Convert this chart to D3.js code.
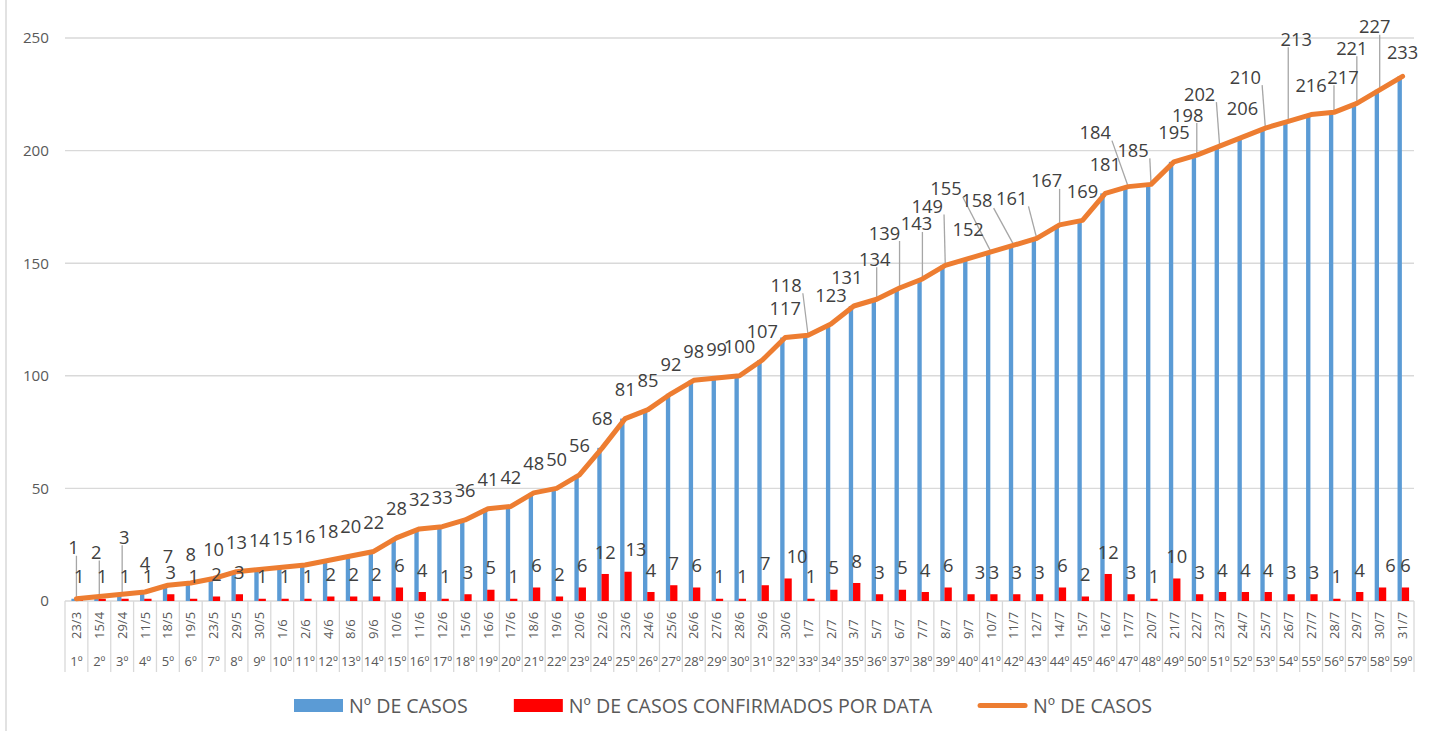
<!DOCTYPE html>
<html>
<head>
<meta charset="utf-8">
<script src="https://cdn.jsdelivr.net/npm/d3@7"></script>
<style>
  html, body { margin: 0; padding: 0; background: #fff; }
  svg { display: block; }
  text { font-family: "Open Sans", "Noto Sans", sans-serif; }
</style>
</head>
<body>
<svg id="chart" width="1431" height="731"></svg>
<script>
// ---------------- DATA ----------------
const categories = ["23/3","15/4","29/4","11/5","18/5","19/5","23/5","29/5","30/5","1/6","2/6","4/6","8/6","9/6","10/6","11/6","12/6","15/6","16/6","17/6","18/6","19/6","20/6","22/6","23/6","24/6","25/6","26/6","27/6","28/6","29/6","30/6","1/7","2/7","3/7","5/7","6/7","7/7","8/7","9/7","10/7","11/7","12/7","14/7","15/7","16/7","17/7","20/7","21/7","22/7","23/7","24/7","25/7","26/7","27/7","28/7","29/7","30/7","31/7"];
const ordinals = ["1º","2º","3º","4º","5º","6º","7º","8º","9º","10º","11º","12º","13º","14º","15º","16º","17º","18º","19º","20º","21º","22º","23º","24º","25º","26º","27º","28º","29º","30º","31º","32º","33º","34º","35º","36º","37º","38º","39º","40º","41º","42º","43º","44º","45º","46º","47º","48º","49º","50º","51º","52º","53º","54º","55º","56º","57º","58º","59º"];
const cumulativeCases = [1,2,3,4,7,8,10,13,14,15,16,18,20,22,28,32,33,36,41,42,48,50,56,68,81,85,92,98,99,100,107,117,118,123,131,134,139,143,149,152,155,158,161,167,169,181,184,185,195,198,202,206,210,213,216,217,221,227,233];
const dailyCases = [1,1,1,1,3,1,2,3,1,1,1,2,2,2,6,4,1,3,5,1,6,2,6,12,13,4,7,6,1,1,7,10,1,5,8,3,5,4,6,3,3,3,3,6,2,12,3,1,10,3,4,4,4,3,3,1,4,6,6];
const yTicks = [0,50,100,150,200,250];
const seriesNames = ["Nº DE CASOS","Nº DE CASOS CONFIRMADOS POR DATA","Nº DE CASOS"];

// ---------------- LAYOUT (label placement tweaks, pixels) ----------------
const cumLabelOffsets = {0:[-3,-51],1:[-3,-44],2:[2,-57],32:[-22,-50],34:[-7,-29],35:[-2,-40],36:[-15,-55],37:[-6,-55],38:[-18,-59],40:[-45,-63],41:[-37,-45],42:[-25,-40],43:[-13,-44],46:[-33,-54],47:[-18,-34],49:[-9,-40],50:[-20,-52],52:[-20,-51],53:[8,-82],55:[9,-35],56:[-5,-55],57:[-5,-63],58:[0,-24]};
const cumLabelDefault = [0,-29];
const dailyLabelShift = {24:8,31:9,39:9,57:8};

const colors = { blue:"#5B9BD5", red:"#FF0000", orange:"#ED7D31", grid:"#D9D9D9", axisText:"#595959", label:"#404040", leader:"#A6A6A6" };

const svg = d3.select("#chart");
const plot = { left:65, right:1414, top:38, bottom:601 };

const x = d3.scaleBand().domain(d3.range(categories.length)).range([plot.left, plot.right]).padding(0);
const bw = x.bandwidth();
const sub = d3.scaleLinear().domain([0,1]).range([0,bw]);
const y = d3.scaleLinear().domain([0,250]).range([plot.bottom, plot.top]);
const cx = i => x(i) + bw/2;

// chart area left border
svg.append("line").attr("x1",6).attr("x2",6).attr("y1",0).attr("y2",731)
  .attr("stroke",colors.grid).attr("stroke-width",1.5);

// horizontal gridlines
svg.append("g").selectAll("line").data(yTicks).join("line")
  .attr("x1",plot.left).attr("x2",plot.right)
  .attr("y1",d=>y(d)).attr("y2",d=>y(d))
  .attr("stroke",colors.grid).attr("stroke-width",1.4);

// y axis labels
svg.append("g").selectAll("text").data(yTicks).join("text")
  .attr("x",49).attr("y",d=>y(d)+5.4)
  .attr("text-anchor","end").attr("font-size",15.2).attr("fill",colors.axisText)
  .text(d=>d);

// category separators
const bounds = d3.range(categories.length+1).map(i => i<categories.length ? x(i) : plot.right);
svg.append("g").selectAll("line").data(bounds).join("line")
  .attr("x1",d=>d).attr("x2",d=>d).attr("y1",plot.bottom).attr("y2",672)
  .attr("stroke",colors.grid).attr("stroke-width",1.3);

// date labels (rotated)
svg.append("g").selectAll("text").data(categories).join("text")
  .attr("transform",(d,i)=>`translate(${cx(i)+4.6},639) rotate(-90)`)
  .attr("text-anchor","start").attr("font-size",13).attr("fill",colors.axisText)
  .text(d=>d);

// ordinal labels
svg.append("g").selectAll("text").data(ordinals).join("text")
  .attr("x",(d,i)=>cx(i)).attr("y",666)
  .attr("text-anchor","middle").attr("font-size",13).attr("fill",colors.axisText)
  .text(d=>d);

// blue bars (cumulative)
svg.append("g").selectAll("rect").data(cumulativeCases).join("rect")
  .attr("x",(d,i)=>x(i)+sub(0.28)).attr("width",sub(0.19))
  .attr("y",d=>y(d)).attr("height",d=>y(0)-y(d))
  .attr("fill",colors.blue);

// red bars (daily)
svg.append("g").selectAll("rect").data(dailyCases).join("rect")
  .attr("x",(d,i)=>x(i)+sub(0.465)).attr("width",sub(0.32))
  .attr("y",d=>y(d)).attr("height",d=>y(0)-y(d))
  .attr("fill",colors.red);

// leader lines for moved cumulative labels
const cumLabelFont = 18.3;
const leaders = [];
cumulativeCases.forEach((v,i)=>{
  const off = cumLabelOffsets[i] || cumLabelDefault;
  const dist = Math.hypot(off[0]-cumLabelDefault[0], off[1]-cumLabelDefault[1]);
  if (dist > 9) {
    const px = cx(i), py = y(v);
    const lcx = px+off[0], lcy = py+off[1];
    const w = String(v).length*10.5 + 2, h = 8;
    const lx = Math.max(lcx-w/2, Math.min(px, lcx+w/2));
    const ly = Math.max(lcy-h, Math.min(py, lcy+h));
    const len = Math.hypot(px-lx, py-ly);
    const k = (len-2)/len;
    leaders.push([lx, ly, lx+(px-lx)*k, ly+(py-ly)*k]);
  }
});
svg.append("g").selectAll("line").data(leaders).join("line")
  .attr("x1",d=>d[0]).attr("y1",d=>d[1]).attr("x2",d=>d[2]).attr("y2",d=>d[3])
  .attr("stroke",colors.leader).attr("stroke-width",1.3);

// orange line
const line = d3.line().x((d,i)=>cx(i)).y(d=>y(d));
svg.append("path").datum(cumulativeCases)
  .attr("d",line).attr("fill","none").attr("stroke",colors.orange)
  .attr("stroke-width",5).attr("stroke-linejoin","round").attr("stroke-linecap","round");

// daily labels
svg.append("g").selectAll("text").data(dailyCases).join("text")
  .attr("x",(d,i)=>x(i)+sub(0.465)+sub(0.32)/2+(dailyLabelShift[i]||0))
  .attr("y",d=>y(d)-22+cumLabelFont*0.357)
  .attr("text-anchor","middle").attr("font-size",cumLabelFont).attr("fill",colors.label)
  .text(d=>d);

// cumulative labels
svg.append("g").selectAll("text").data(cumulativeCases).join("text")
  .attr("x",(d,i)=>cx(i)+(cumLabelOffsets[i]||cumLabelDefault)[0])
  .attr("y",(d,i)=>y(d)+(cumLabelOffsets[i]||cumLabelDefault)[1]+cumLabelFont*0.357)
  .attr("text-anchor","middle").attr("font-size",cumLabelFont).attr("fill",colors.label)
  .text(d=>d);

// legend
const lg = svg.append("g");
let lx = 294;
const ly = 705.5;
const keyW = 49, keyGap = 6, itemGap = 46;
const keyTypes = ["bar-blue","bar-red","line"];
seriesNames.forEach((name,k)=>{
  if (keyTypes[k]==="line") {
    lg.append("line").attr("x1",lx+2).attr("x2",lx+keyW-2).attr("y1",ly).attr("y2",ly)
      .attr("stroke",colors.orange).attr("stroke-width",5).attr("stroke-linecap","round");
  } else {
    lg.append("rect").attr("x",lx).attr("y",ly-6.5).attr("width",keyW).attr("height",13)
      .attr("fill",k===0?colors.blue:colors.red);
  }
  const t = lg.append("text").attr("x",lx+keyW+keyGap).attr("y",ly+7)
    .attr("font-size",19.6).attr("fill",colors.axisText).text(name);
  lx += keyW + keyGap + t.node().getComputedTextLength() + itemGap;
});
</script>
</body>
</html>
